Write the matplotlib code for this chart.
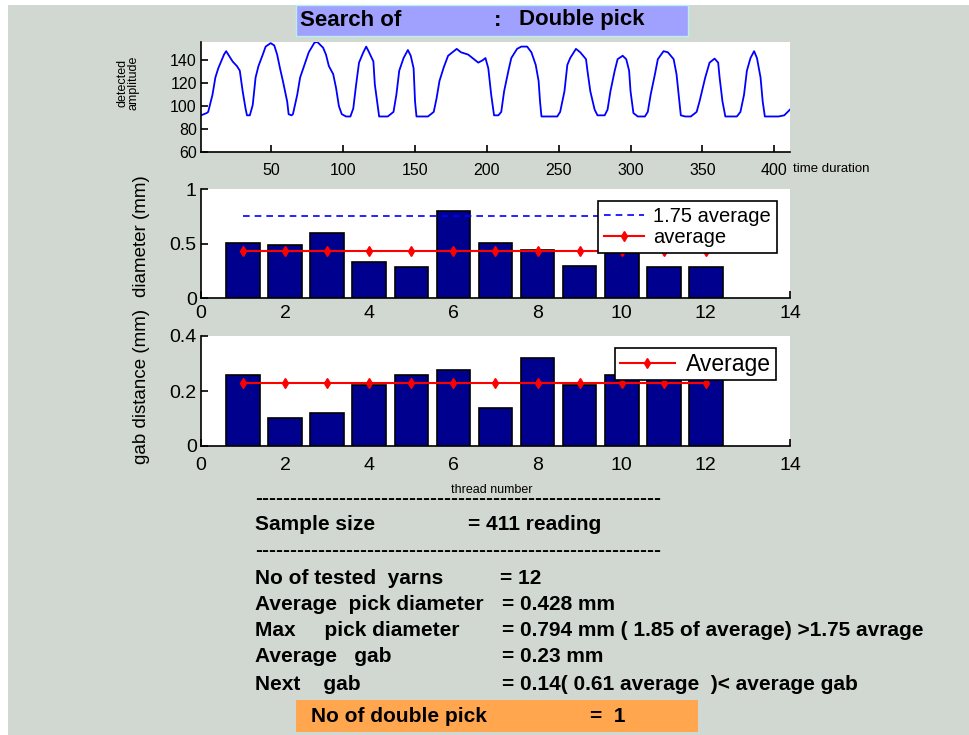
import matplotlib
matplotlib.use('Agg')
import matplotlib.pyplot as plt
from matplotlib.patches import Rectangle

plt.rcParams['font.family'] = ['Liberation Sans', 'DejaVu Sans']

# ---------------- data ----------------
time_pts = [1, 5, 6, 9, 11, 13, 17, 18.5, 20, 23, 26, 28, 30, 32, 33, 35, 37, 39, 41, 44, 46, 49.5, 52,
            54, 56, 58, 61, 62, 64, 65, 68, 70, 73, 76, 80, 82, 86, 88, 90, 93, 95, 97, 99, 102, 105,
            107, 109, 111, 114, 116, 118, 121, 122, 124, 125, 131, 135, 137, 139, 142, 145, 147, 149,
            150, 151, 159, 163, 165, 167, 170, 173, 177, 179, 182, 187, 191, 194, 197, 199, 201, 203,
            205, 208, 210, 212, 215, 217, 221, 224, 228, 231, 234, 236, 237, 238, 249, 251, 254, 256,
            258, 262, 265, 269, 270, 272, 275, 277, 282, 284, 286, 289, 291, 294.5, 297, 299, 300, 302,
            305, 310, 312, 314, 317, 319, 323, 326, 330, 332, 334, 335, 338, 342, 346, 348, 352, 355,
            358.5, 361, 362, 364, 366, 374, 376.5, 379, 381, 383.5, 386, 388, 390.5, 392, 393.5, 403,
            407, 411]
amp_pts = [92, 94, 95, 110, 125, 133, 145, 148, 145, 139, 135, 131, 113, 98, 92, 92, 101, 125, 135, 145,
           152, 155, 153, 145, 133, 122, 104, 93, 92, 93, 110, 125, 136, 147, 155.5, 156, 151, 145, 135,
           128, 116, 100, 93, 91, 91, 98, 119, 138, 147, 152, 147, 139, 119, 100, 91, 91, 95, 110, 131,
           142, 149, 144, 133, 104, 91, 91, 95, 107, 122, 134, 144, 148, 150, 147, 145, 141, 138, 140,
           142, 133, 110, 92, 92, 95, 113, 131, 142, 150, 152, 152, 147, 136, 122, 104, 91, 91, 95,
           113, 136, 142, 150, 147, 141, 131, 113, 97, 92, 92, 97, 113, 131, 141, 144, 141, 131, 113,
           94, 91, 91, 95, 110, 128, 141, 148, 147, 141, 128, 104, 92, 91, 91, 95, 104, 125, 138, 141.5,
           138, 125, 104, 91, 91, 95, 110, 131, 142, 148, 142, 125, 104, 91, 91, 92, 97]

thread = [1, 2, 3, 4, 5, 6, 7, 8, 9, 10, 11, 12]
diameter = [0.503, 0.485, 0.595, 0.330, 0.283, 0.794, 0.503, 0.440, 0.298, 0.410, 0.283, 0.283]
gap = [0.260, 0.102, 0.121, 0.223, 0.260, 0.278, 0.139, 0.321, 0.223, 0.259, 0.270, 0.260]
avg_diameter = 0.428
avg_gap = 0.23

top_xticks = [50, 100, 150, 200, 250, 300, 350, 400]
top_yticks = [60, 80, 100, 120, 140]
bar_xticks = [0, 2, 4, 6, 8, 10, 12, 14]
mid_yticks = [0, 0.5, 1]
bot_yticks = [0, 0.2, 0.4]

summary_labels = ["No of tested  yarns", "Average  pick diameter", "Max     pick diameter",
                  "Average   gab", "Next    gab"]
summary_values = ["= 12", "= 0.428 mm", "= 0.794 mm ( 1.85 of average) >1.75 avrage",
                  "= 0.23 mm", "= 0.14( 0.61 average  )< average gab"]

# ---------------- layout ----------------
W, H = 970, 735
BG = '#d1d8d1'
BAR = '#00008f'

fig = plt.figure(figsize=(W / 100, H / 100), dpi=100)
fig.patch.set_facecolor('white')
fig.add_artist(Rectangle((8 / W, 0), 1 - 8 / W, 1 - 5 / H, transform=fig.transFigure,
                         facecolor=BG, edgecolor='none', zorder=-10))


def fx(x):
    return x / W


def fy(y):
    return 1 - y / H


def make_ax(top, bottom, left=201, right=790):
    ax = fig.add_axes([fx(left), fy(bottom), (right - left) / W, (bottom - top) / H])
    ax.set_facecolor('white')
    for s in ['top', 'right']:
        ax.spines[s].set_visible(False)
    for s in ['left', 'bottom']:
        ax.spines[s].set_linewidth(1.2)
    ax.tick_params(direction='in', length=5, width=1.2, top=False, right=False, pad=3)
    return ax


def style_legend(leg):
    fr = leg.get_frame()
    fr.set_edgecolor('black')
    fr.set_linewidth(1.2)
    fr.set_alpha(1)
    fr.set_facecolor('white')


# top signal plot
ax1 = make_ax(42, 152)
ax1.plot(time_pts, amp_pts, color='#0000ff', lw=1.3)
ax1.set_xlim(1, 411)
ax1.set_ylim(60, 156)
ax1.set_xticks(top_xticks)
ax1.set_yticks(top_yticks)
ax1.tick_params(labelsize=11.5)
ax1.tick_params(axis='x', pad=8)
fig.text(fx(793), fy(169), 'time duration', fontsize=9.5, ha='left', va='center')
fig.text(fx(128), fy(83), 'detected\namplitude', fontsize=9, rotation=90, ha='center', va='center',
         linespacing=0.95)

# middle diameter plot
ax2 = make_ax(189, 298)
ax2.bar(thread, diameter, width=0.8, color=BAR, edgecolor='black', linewidth=1.2, zorder=2)
ax2.plot([thread[0], thread[-1]], [1.75 * avg_diameter] * 2, '--', color='#0000ff', lw=1.2,
         dashes=(4, 3), label='1.75 average', zorder=3)
ax2.plot(thread, [avg_diameter] * len(thread), '-d', color='red', lw=1.5, ms=5,
         label='average', zorder=3)
ax2.set_xlim(0, 14)
ax2.set_ylim(0, 1)
ax2.set_xticks(bar_xticks)
ax2.set_yticks(mid_yticks)
ax2.set_yticklabels(['0', '0.5', '1'])
ax2.tick_params(labelsize=14)
ax2.tick_params(axis='x', pad=5)
leg2 = ax2.legend(loc='upper right', bbox_to_anchor=(fx(777), fy(201)),
                  bbox_transform=fig.transFigure, fontsize=14.5, frameon=True, fancybox=False,
                  framealpha=1, borderpad=0.3, labelspacing=0.1, handlelength=2.0,
                  handletextpad=0.45, borderaxespad=0)
style_legend(leg2)
fig.text(fx(142), fy(236), 'diameter (mm)', fontsize=13.5, rotation=90, ha='center', va='center')

# bottom gap plot
ax3 = make_ax(336, 446)
ax3.bar(thread, gap, width=0.8, color=BAR, edgecolor='black', linewidth=1.2, zorder=2)
ax3.plot(thread, [avg_gap] * len(thread), '-d', color='red', lw=1.5, ms=5, label='Average', zorder=3)
ax3.set_xlim(0, 14)
ax3.set_ylim(0, 0.4)
ax3.set_xticks(bar_xticks)
ax3.set_yticks(bot_yticks)
ax3.set_yticklabels(['0', '0.2', '0.4'])
ax3.tick_params(labelsize=14)
ax3.tick_params(axis='x', pad=8)
leg3 = ax3.legend(loc='upper right', bbox_to_anchor=(fx(776), fy(348)),
                  bbox_transform=fig.transFigure, fontsize=16.5, frameon=True, fancybox=False,
                  framealpha=1, borderpad=0.2, handlelength=2.4, handletextpad=0.5,
                  borderaxespad=0)
style_legend(leg3)
fig.text(fx(142), fy(386), 'gab distance (mm)', fontsize=13.5, rotation=90, ha='center', va='center')

# title box
fig.add_artist(Rectangle((fx(296), fy(36)), (688 - 296) / W, 31 / H, transform=fig.transFigure,
                         facecolor='#a0a0ff', edgecolor='#b8f0f0', linewidth=1))
TT = dict(fontsize=16, fontweight='bold', va='center', ha='left')
fig.text(fx(300), fy(20), 'Search of', **TT)
fig.text(fx(494), fy(20), ':', **TT)
fig.text(fx(519), fy(20), 'Double pick', **TT)

# summary text
TB = dict(fontsize=15, fontweight='bold', va='center', ha='left')
fig.text(fx(492), fy(490), 'thread number', fontsize=9, ha='center', va='center')
dash = '-' * 58
fig.text(fx(255), fy(498), dash, **TB)
fig.text(fx(255), fy(525), 'Sample size', **TB)
fig.text(fx(468), fy(525), '= 411 reading', **TB)
fig.text(fx(255), fy(551), dash, **TB)
ys = [578, 604, 631, 657, 684]
vx = [500, 502, 502, 502, 502]
for lab, val, y, x in zip(summary_labels, summary_values, ys, vx):
    fig.text(fx(255), fy(y), lab, **TB)
    fig.text(fx(x), fy(y), val, **TB)

# orange result box
fig.add_artist(Rectangle((fx(296), fy(732)), (698 - 296) / W, 32 / H, transform=fig.transFigure,
                         facecolor='#ffa64f', edgecolor='none'))
fig.text(fx(311), fy(716), 'No of double pick', **TB)
fig.text(fx(590), fy(716), '=  1', **TB)

fig.savefig('out.png', dpi=100, facecolor=fig.get_facecolor())
